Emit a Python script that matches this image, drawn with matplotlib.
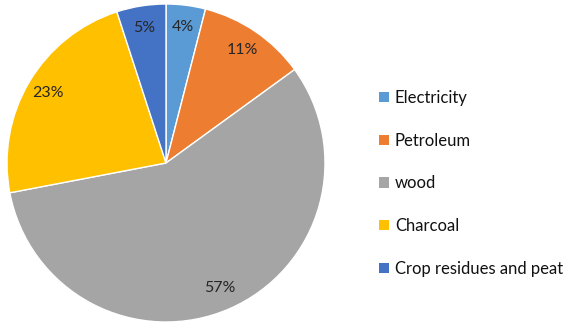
import matplotlib
matplotlib.use("Agg")
import matplotlib.pyplot as plt
from matplotlib.patches import Patch

# data
sources = ["Electricity", "Petroleum", "wood", "Charcoal", "Crop residues and peat"]
shares = [4, 11, 57, 23, 5]
colors = ["#5B9BD5", "#ED7D31", "#A5A5A5", "#FFC000", "#4472C4"]

plt.rcParams['font.family'] = ['Lato', 'DejaVu Sans']

W, H = 567, 326
fig = plt.figure(figsize=(W / 100, H / 100), dpi=100)

# pie centre ~ (166,163), radius ~159 px
r = 159
cx, cy = 166, 163
ax = fig.add_axes([(cx - r) / W, (H - cy - r) / H, 2 * r / W, 2 * r / H])

wedges, texts, autotexts = ax.pie(shares, colors=colors, startangle=90, counterclock=False,
                                  autopct='%d%%', pctdistance=0.86, radius=1,
                                  wedgeprops=dict(edgecolor='white', linewidth=1))
for t in autotexts:
    t.set_fontsize(11.5)
    t.set_color('#262626')
ax.set_xlim(-1, 1)
ax.set_ylim(-1, 1)
ax.set_aspect('equal')
ax.axis('off')

handles = [Patch(facecolor=c, edgecolor='none') for c in colors]
leg = fig.legend(handles, sources, loc='upper left', bbox_to_anchor=(364 / W, 1 - 75 / H),
                 frameon=False, fontsize=12, handlelength=0.6, handleheight=0.6,
                 handletextpad=0.35, labelspacing=1.6)
for t in leg.get_texts():
    t.set_color('#111111')

fig.savefig("out.png", dpi=100)
